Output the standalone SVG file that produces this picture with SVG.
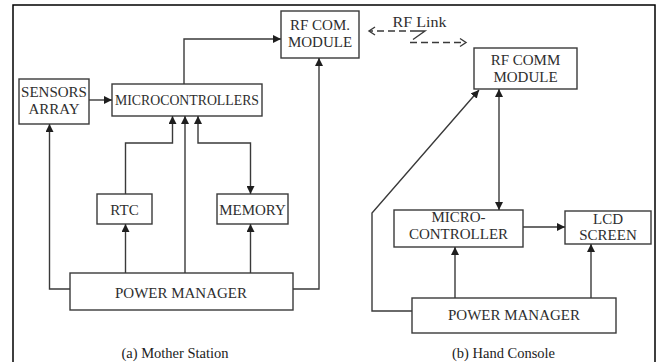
<svg xmlns="http://www.w3.org/2000/svg" width="662" height="362" viewBox="0 0 662 362">
  <style>
    .box { fill: #ffffff; stroke: #3a3a3a; stroke-width: 1.4; }
    .lbl { font-family: "Liberation Serif", "Times New Roman", serif; font-size: 15px; fill: #2e2e2e; text-anchor: middle; }
    .cap { font-family: "Liberation Serif", "Times New Roman", serif; font-size: 14.5px; fill: #222; text-anchor: middle; }
    .wire { fill: none; stroke: #3a3a3a; stroke-width: 1.4; }
    .dash { fill: none; stroke: #3a3a3a; stroke-width: 1.3; stroke-dasharray: 7 4; }
    .chev { fill: none; stroke: #3a3a3a; stroke-width: 1.4; }
  </style>
  <defs>
    <marker id="tip" viewBox="0 0 10 10" refX="10" refY="5" markerWidth="8" markerHeight="8" markerUnits="userSpaceOnUse" orient="auto-start-reverse">
      <path d="M0,0 L10,5 L0,10 Z" fill="#1e1e1e"/>
    </marker>
  </defs>

  <rect width="662" height="362" fill="#ffffff"/>
  <!-- outer frame (open at the bottom) -->
  <path d="M13,362 V5 H655 V362" fill="none" stroke="#000" stroke-width="1.5"/>

  <!-- Mother station nodes -->
  <g id="ms-rf">
    <rect class="box" x="281" y="11" width="78" height="47"/>
    <text class="lbl" x="320" y="30">RF COM.</text>
    <text class="lbl" x="320" y="47">MODULE</text>
  </g>
  <g id="ms-sensors">
    <rect class="box" x="19" y="79" width="70" height="45"/>
    <text class="lbl" x="54" y="97">SENSORS</text>
    <text class="lbl" x="54" y="113.5">ARRAY</text>
  </g>
  <g id="ms-micro">
    <rect class="box" x="112" y="84" width="150" height="32"/>
    <text class="lbl" x="187" y="104.5" textLength="144" lengthAdjust="spacingAndGlyphs">MICROCONTROLLERS</text>
  </g>
  <g id="ms-rtc">
    <rect class="box" x="97" y="194" width="55" height="30"/>
    <text class="lbl" x="124.5" y="214.5">RTC</text>
  </g>
  <g id="ms-memory">
    <rect class="box" x="217" y="194" width="71" height="30"/>
    <text class="lbl" x="252.5" y="214.5">MEMORY</text>
  </g>
  <g id="ms-power">
    <rect class="box" x="70" y="273" width="223" height="37"/>
    <text class="lbl" x="181" y="297.5">POWER MANAGER</text>
  </g>

  <!-- Hand console nodes -->
  <g id="hc-rf">
    <rect class="box" x="474" y="48" width="103" height="41"/>
    <text class="lbl" x="525.5" y="64.5">RF COMM</text>
    <text class="lbl" x="525.5" y="82">MODULE</text>
  </g>
  <g id="hc-micro">
    <rect class="box" x="394" y="210" width="129" height="37"/>
    <text class="lbl" x="458.5" y="221.5">MICRO-</text>
    <text class="lbl" x="458.5" y="238.5">CONTROLLER</text>
  </g>
  <g id="hc-lcd">
    <rect class="box" x="565" y="211" width="86" height="33"/>
    <text class="lbl" x="608" y="223.5">LCD</text>
    <text class="lbl" x="608" y="239.5">SCREEN</text>
  </g>
  <g id="hc-power">
    <rect class="box" x="412" y="298" width="204" height="35"/>
    <text class="lbl" x="514" y="319.5">POWER MANAGER</text>
  </g>

  <!-- connectors -->
  <g id="connectors">
    <!-- mother station -->
    <path class="wire" d="M184,84 V39 H281" marker-end="url(#tip)"/>
    <path class="wire" d="M89,100 H112" marker-end="url(#tip)"/>
    <path class="wire" d="M70,289 H49.5 V124" marker-end="url(#tip)"/>
    <path class="wire" d="M293,289 H319 V58" marker-end="url(#tip)"/>
    <path class="wire" d="M125.5,273 V224" marker-end="url(#tip)"/>
    <path class="wire" d="M125.5,194 V143 H172.5 V116" marker-end="url(#tip)"/>
    <path class="wire" d="M185,273 V116" marker-end="url(#tip)"/>
    <path class="wire" d="M250.5,273 V224" marker-end="url(#tip)"/>
    <path class="wire" d="M198,116 V143 H250.5 V194" marker-start="url(#tip)" marker-end="url(#tip)"/>

    <!-- hand console -->
    <path class="wire" d="M499,89 V210" marker-start="url(#tip)" marker-end="url(#tip)"/>
    <path class="wire" d="M412,311 H372 V213 L479,90" marker-end="url(#tip)"/>
    <path class="wire" d="M523,227 H565" marker-end="url(#tip)"/>
    <path class="wire" d="M455,298 V247" marker-end="url(#tip)"/>
    <path class="wire" d="M591,298 V244" marker-end="url(#tip)"/>

    <!-- wireless link -->
    <path class="dash" d="M417,31 H370"/>
    <polyline class="chev" points="375,27 369,31 375,35"/>
    <path class="wire" d="M417,31 H425 L413,39.5" stroke-width="1.2"/>
    <path class="dash" d="M410,42.5 H465"/>
    <polyline class="chev" points="460,38.5 466,42.5 460,46.5"/>
  </g>
  <text class="lbl" x="419.5" y="26.5" font-size="16" textLength="54" lengthAdjust="spacingAndGlyphs">RF Link</text>

  <!-- captions -->
  <text class="cap" x="175" y="358">(a) Mother Station</text>
  <text class="cap" x="503.5" y="358">(b) Hand Console</text>
</svg>
